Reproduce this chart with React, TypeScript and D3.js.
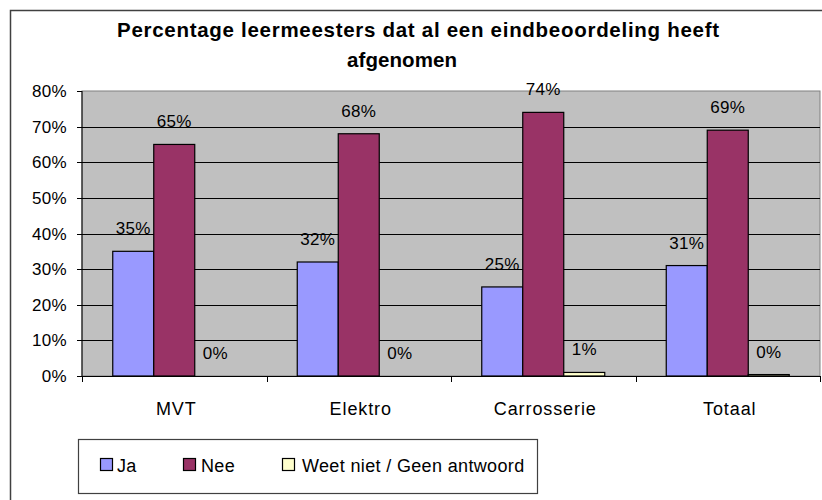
import React from "react";
import * as d3 from "d3";

const categories = ["MVT", "Elektro", "Carrosserie", "Totaal"];
const seriesNames = ["Ja", "Nee", "Weet niet / Geen antwoord"];
const ja = [35, 32, 25, 31];
const nee = [65, 68, 74, 69];
const weetNiet = [0, 0, 1, 0.4];
const labelsJa = ["35%", "32%", "25%", "31%"];
const labelsNee = ["65%", "68%", "74%", "69%"];
const labelsWeet = ["0%", "0%", "1%", "0%"];
const yTicks = [0, 10, 20, 30, 40, 50, 60, 70, 80];
const titleLines = ["Percentage leermeesters dat al een eindbeoordeling heeft", "afgenomen"];

const colors = ["#9999ff", "#993366", "#ffffcc"];
const FONT = "'Liberation Sans', Arial, sans-serif";

export default function App() {
  const W = 822, H = 500;
  const left = 82, right = 820, top = 91, bottom = 376;
  const x = d3.scaleBand<string>().domain(categories).range([left, right]).paddingInner(0).paddingOuter(0);
  const xs = d3.scaleBand<string>().domain(seriesNames).range([0, x.bandwidth()]).paddingInner(0).paddingOuter(0.75);
  const y = d3.scaleLinear().domain([0, 80]).range([bottom, top]);
  const series = [ja, nee, weetNiet];
  const labels = [labelsJa, labelsNee, labelsWeet];
  const boundaries = [...categories.map((c) => x(c) as number), right];

  return (
    <svg width={W} height={H} style={{ position: "absolute", left: 0, top: 0, background: "#fff" }} fontFamily={FONT}>
      {/* outer chart frame */}
      <path d={`M10.5,${H} L10.5,10.5 L${W},10.5`} fill="none" stroke="#404040" strokeWidth={1.5} />
      {/* title */}
      <text x={117} y={37} fontSize={20.5} fontWeight="bold" fill="#000" textLength={602} lengthAdjust="spacing">{titleLines[0]}</text>
      <text x={347} y={67} fontSize={20.5} fontWeight="bold" fill="#000" textLength={110} lengthAdjust="spacing">{titleLines[1]}</text>
      {/* plot background */}
      <rect x={left} y={top} width={right - left} height={bottom - top} fill="#c0c0c0" stroke="#808080" strokeWidth={1} />
      {/* gridlines */}
      {yTicks.filter((t) => t > 0 && t < 80).map((t) => (
        <line key={t} x1={left} x2={right} y1={Math.round(y(t)) + 0.5} y2={Math.round(y(t)) + 0.5} stroke="#000" strokeWidth={1} />
      ))}
      {/* bars */}
      {series.map((vals, si) =>
        vals.map((v, ci) => {
          if (v <= 0) return null;
          const bx = (x(categories[ci]) as number) + (xs(seriesNames[si]) as number);
          return (
            <rect key={`${si}-${ci}`} x={bx} y={y(v)} width={xs.bandwidth()} height={Math.max(0, bottom - y(v))}
              fill={colors[si]} stroke="#000" strokeWidth={1.2} />
          );
        })
      )}
      {/* data labels */}
      {series.map((vals, si) =>
        vals.map((v, ci) => {
          const bx = (x(categories[ci]) as number) + (xs(seriesNames[si]) as number) + xs.bandwidth() / 2;
          return (
            <text key={`l${si}-${ci}`} x={bx} y={y(v) - 17} textAnchor="middle" fontSize={17} fill="#000" letterSpacing={0.3}>{labels[si][ci]}</text>
          );
        })
      )}
      {/* axes */}
      <line x1={left} x2={left} y1={top} y2={bottom} stroke="#000" strokeWidth={1} />
      <line x1={left - 5} x2={right} y1={bottom + 0.5} y2={bottom + 0.5} stroke="#000" strokeWidth={1} />
      {yTicks.map((t) => (
        <g key={`yt${t}`}>
          <line x1={left - 5} x2={left} y1={Math.round(y(t)) + 0.5} y2={Math.round(y(t)) + 0.5} stroke="#000" />
          <text x={67} y={y(t) + 6} textAnchor="end" fontSize={17} fill="#000" letterSpacing={0.3}>{t}%</text>
        </g>
      ))}
      {boundaries.map((b, i) => (
        <line key={`xt${i}`} x1={Math.round(b) + 0.5} x2={Math.round(b) + 0.5} y1={bottom} y2={bottom + 6} stroke="#000" />
      ))}
      {categories.map((c) => (
        <text key={c} x={(x(c) as number) + x.bandwidth() / 2 + 2} y={415} textAnchor="middle" fontSize={18} fill="#000" letterSpacing={0.9}>{c}</text>
      ))}
      {/* legend */}
      <rect x={78.5} y={439.5} width={459} height={54} fill="#fff" stroke="#404040" strokeWidth={1.2} />
      {[
        { sx: 100, tx: 117 },
        { sx: 183, tx: 201 },
        { sx: 282, tx: 302 },
      ].map((p, i) => (
        <g key={`lg${i}`}>
          <rect x={p.sx + 0.5} y={458.5} width={12} height={12} fill={colors[i]} stroke="#000" strokeWidth={1.2} />
          <text x={p.tx} y={472} fontSize={18} fill="#000" letterSpacing={0.35}>{seriesNames[i]}</text>
        </g>
      ))}
    </svg>
  );
}
